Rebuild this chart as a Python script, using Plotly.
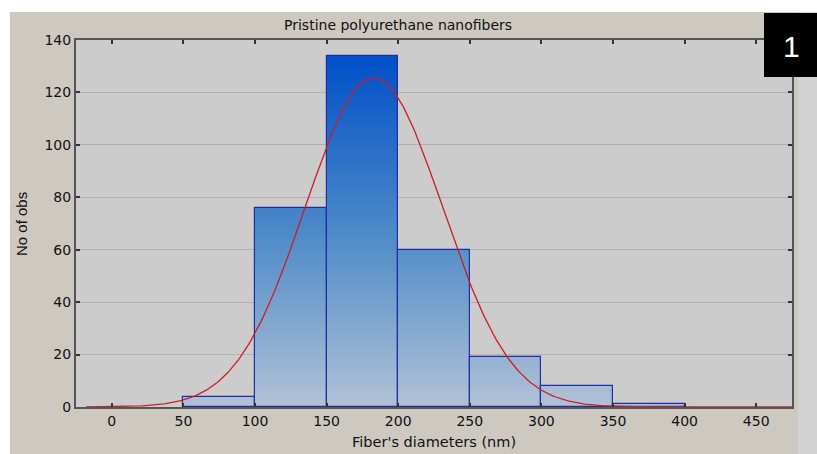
import numpy as np
import plotly.graph_objects as go

# Histogram of fiber diameters (nm)
bin_left = [0, 50, 100, 150, 200, 250, 300, 350, 400]
bin_right = [50, 100, 150, 200, 250, 300, 350, 400, 450]
counts = [0, 4, 76, 134, 60, 19, 8, 1, 0]

# Fitted normal distribution parameters
fit_mean = 183.0
fit_sd = 48.0

x_ticks = [0, 50, 100, 150, 200, 250, 300, 350, 400, 450]
y_ticks = [0, 20, 40, 60, 80, 100, 120, 140]

W, H = 817, 454
L, R, T, B = 76, 792, 40, 407
pw, ph = R - L, B - T


def px_x(v):
    return (v - L) / pw


def px_y(v):
    return (B - v) / ph


# vertical colour gradient for the bars (bottom -> top)
grad = [(0.0, (178, 194, 214)), (0.5, (76, 138, 200)), (1.0, (0, 80, 200))]


def grad_color(t):
    for (a, ca), (b, cb) in zip(grad[:-1], grad[1:]):
        if t <= b:
            f = (t - a) / (b - a) if b > a else 0
            c = [round(ca[i] + (cb[i] - ca[i]) * f) for i in range(3)]
            return f"rgb({c[0]},{c[1]},{c[2]})"
    c = grad[-1][1]
    return f"rgb({c[0]},{c[1]},{c[2]})"


top = max(counts)
centers = [(a + b) / 2 for a, b in zip(bin_left, bin_right)]
widths = [b - a for a, b in zip(bin_left, bin_right)]

seg_x, seg_y, seg_c, seg_w = [], [], [], []
step = 0.5
for cx, w, n in zip(centers, widths, counts):
    if n <= 0:
        continue
    levels = np.arange(n, 0, -step)
    for lv in levels:
        seg_x.append(cx)
        seg_y.append(float(lv))
        seg_w.append(w)
        seg_c.append(grad_color(lv / top))

fig = go.Figure()

fig.add_trace(go.Bar(
    x=seg_x, y=seg_y, width=seg_w,
    marker=dict(color=seg_c, line=dict(width=0)),
    hoverinfo="skip", showlegend=False,
))

nz = [i for i, n in enumerate(counts) if n > 0]
fig.add_trace(go.Bar(
    x=[centers[i] for i in nz], y=[counts[i] for i in nz],
    width=[widths[i] for i in nz],
    marker=dict(color="rgba(0,0,0,0)", line=dict(color="#1e2fa6", width=1.2)),
    showlegend=False,
))

# expected counts from the normal fit
n_total = sum(counts)
bw = widths[0]
xs = np.linspace(-18, 475, 400)
ys = n_total * bw * np.exp(-0.5 * ((xs - fit_mean) / fit_sd) ** 2) / (fit_sd * np.sqrt(2 * np.pi))
fig.add_trace(go.Scatter(
    x=xs, y=ys, mode="lines",
    line=dict(color="#d01c28", width=1.3),
    showlegend=False,
))

shapes = [
    # frame background
    dict(type="rect", xref="paper", yref="paper", layer="below",
         x0=px_x(10), x1=px_x(798), y0=px_y(454), y1=px_y(12),
         fillcolor="#cdc9c0", line=dict(width=0)),
    dict(type="rect", xref="paper", yref="paper", layer="below",
         x0=px_x(798), x1=px_x(817), y0=px_y(454), y1=px_y(12),
         fillcolor="#d3d3d3", line=dict(width=0)),
    # plotting panel
    dict(type="rect", xref="paper", yref="paper", layer="below",
         x0=0, x1=1, y0=0, y1=1,
         fillcolor="#cccccc", line=dict(width=0)),
    # panel label box
    dict(type="rect", xref="paper", yref="paper", layer="above",
         x0=px_x(764), x1=px_x(818), y0=px_y(77), y1=px_y(13),
         fillcolor="#000000", line=dict(width=0)),
]

font_main = "DejaVu Sans, Liberation Sans, Arial"
annotations = [
    dict(text="Pristine polyurethane nanofibers", xref="paper", yref="paper",
         x=px_x(398), y=px_y(25), xanchor="center", yanchor="middle", showarrow=False,
         font=dict(family=font_main, size=14, color="#111111")),
    dict(text="Fiber's diameters (nm)", xref="paper", yref="paper",
         x=px_x(434), y=px_y(442), xanchor="center", yanchor="middle", showarrow=False,
         font=dict(family=font_main, size=14.5, color="#111111")),
    dict(text="No of obs", xref="paper", yref="paper", textangle=-90,
         x=px_x(21), y=px_y(224), xanchor="center", yanchor="middle", showarrow=False,
         font=dict(family="Liberation Sans Narrow, Liberation Sans, Arial", size=15, color="#111111")),
    dict(text="1", xref="paper", yref="paper",
         x=px_x(791), y=px_y(46), xanchor="center", yanchor="middle", showarrow=False,
         font=dict(family="Liberation Sans, Arial", size=30, color="#ffffff")),
]

fig.update_layout(
    width=W, height=H,
    margin=dict(l=L, r=W - R, t=T, b=H - B),
    paper_bgcolor="#ffffff",
    plot_bgcolor="#cccccc",
    barmode="overlay",
    bargap=0,
    shapes=shapes,
    annotations=annotations,
    showlegend=False,
)

fig.update_xaxes(
    range=[-25, 475], tickvals=x_ticks, ticktext=[str(v) for v in x_ticks],
    showgrid=False, zeroline=False,
    showline=True, linecolor="#555555", linewidth=2, mirror="ticks",
    ticks="inside", ticklen=4, tickcolor="#333333", tickwidth=1.5,
    tickfont=dict(family=font_main, size=14, color="#111111"),
)
fig.update_yaxes(
    range=[0, 140], tickvals=y_ticks, ticktext=[str(v) for v in y_ticks],
    showgrid=True, gridcolor="#b2b2b2", gridwidth=1.2, zeroline=False,
    showline=True, linecolor="#555555", linewidth=2, mirror="ticks",
    ticks="inside", ticklen=4, tickcolor="#333333", tickwidth=1.5,
    tickfont=dict(family=font_main, size=14, color="#111111"),
)

fig.write_html("out.html")
